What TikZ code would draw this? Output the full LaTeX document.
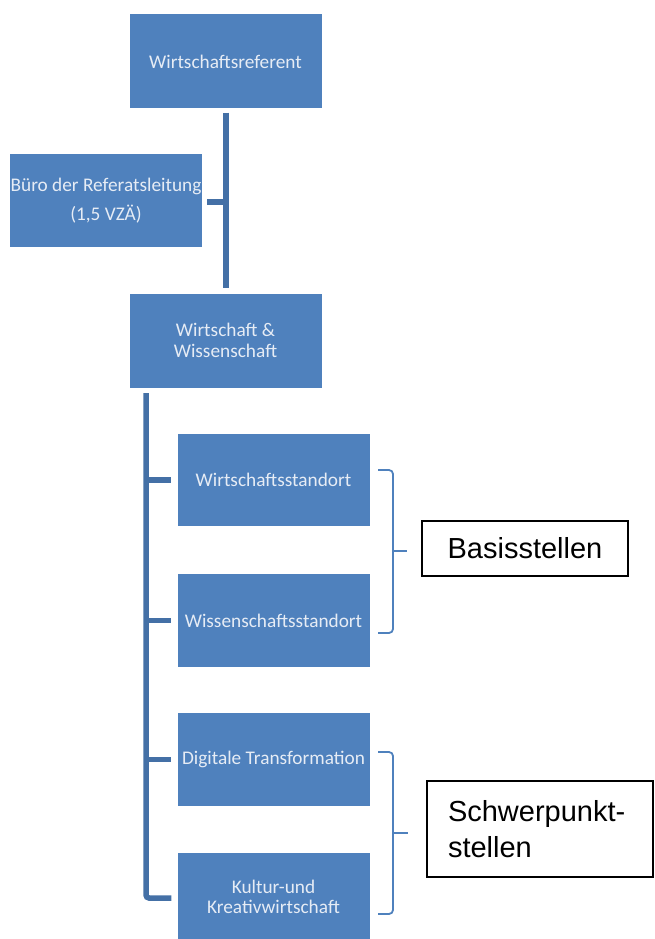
\documentclass[tikz,border=0pt]{standalone}
\usepackage{fontspec}
\setmainfont{Carlito}
\newfontfamily\arialfont{Liberation Sans}
\usetikzlibrary{calc}
\definecolor{boxblue}{HTML}{4F81BD}
\definecolor{connblue}{HTML}{4470A6}
\definecolor{txtlight}{HTML}{E6ECF5}
\begin{document}
\begin{tikzpicture}[x=1pt,y=-1pt,
  orgbox/.style={fill=boxblue, draw=none, text=txtlight, minimum width=192pt, minimum height=94pt,
    align=center, inner sep=0pt, font=\fontsize{19.3}{20.5}\selectfont},
  labelbox/.style={draw=black, line width=1.6pt, fill=white, inner sep=0pt,
    font=\arialfont\fontsize{29}{36}\selectfont},
  connline/.style={draw=connblue, line width=5.5pt},
  bracket/.style={draw=boxblue, line width=1.8pt, rounded corners=4pt}]
\useasboundingbox (0,0) rectangle (654,939);

% org boxes
\node[orgbox] (ref) at (225.5,61.5) {Wirtschaftsreferent};
\node[orgbox, minimum height=93pt] (buero) at (106,200.5) {Büro der Referatsleitung\\[9pt](1,5 VZÄ)};
\node[orgbox] (ww) at (225.5,340.5) {Wirtschaft \&\\Wissenschaft};
\node[orgbox, minimum height=92pt] (ws) at (273.5,480) {Wirtschaftsstandort};
\node[orgbox, minimum height=93pt] (wi) at (273.5,620.5) {Wissenschaftsstandort};
\node[orgbox, minimum height=93pt] (dt) at (273.5,759.5) {Digitale Transformation};
\node[orgbox, minimum height=88pt] (kk) at (273.5,897) {Kultur-und\\Kreativwirtschaft};

% label boxes
\node[labelbox, minimum width=206pt, minimum height=55pt] (basis) at (525,548.5) {Basisstellen};
\node[labelbox, text width=184pt, inner xsep=21pt, minimum height=96pt, align=left] (schwer) at (540,829) {Schwerpunkt-\\stellen};

% connectors
\draw[connline, line width=6pt] ($(ref.south)+(0,4)$) -- ($(ww.north)+(0,-5)$);
\coordinate (bj) at ($(buero.east)+(5,1.5)$);
\draw[connline] (bj) -- (bj -| ref.south);

\coordinate (spine) at (146,393);
\draw[connline, rounded corners=3pt] (spine) |- ($(kk.west)+(-6,1)$);
\draw[connline] (spine |- ws.west) -- ($(ws.west)+(-6,0)$);
\draw[connline] (spine |- wi.west) -- ($(wi.west)+(-6,0)$);
\draw[connline] (spine |- dt.west) -- ($(dt.west)+(-6,0)$);

% brackets
\draw[bracket] (378,470) -- (393,470) -- (393,633) -- (378,633);
\draw[bracket] (393,551) -- (407,551);
\draw[bracket] (378,752) -- (393,752) -- (393,914) -- (378,914);
\draw[bracket] (393,833) -- (408,833);
\end{tikzpicture}
\end{document}
